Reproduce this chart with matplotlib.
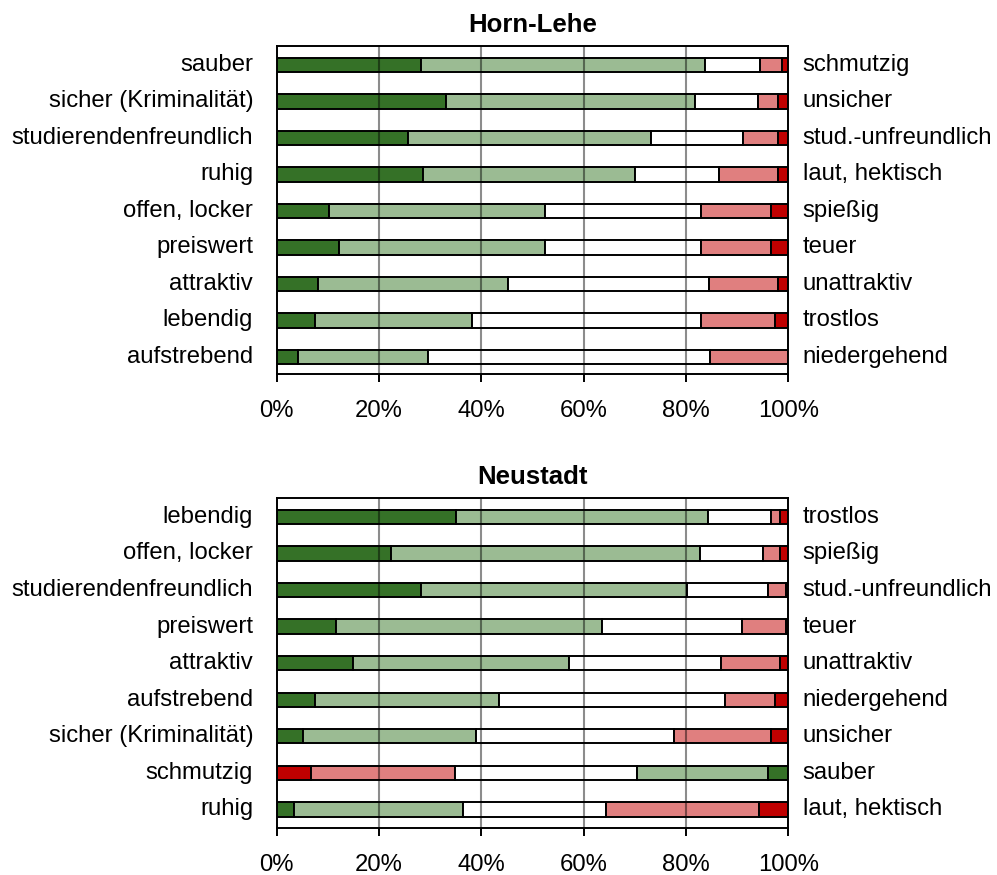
import numpy as np
import matplotlib.pyplot as plt
from matplotlib.transforms import blended_transform_factory

plt.rcParams['font.family'] = ['Liberation Sans', 'DejaVu Sans']

# colours
DUNKELGRUEN = "#357127"
HELLGRUEN   = "#9BBB93"
WEISS       = "#FFFFFF"
ROSA        = "#E07F7F"
ROT         = "#C00000"
SKALA = [DUNKELGRUEN, HELLGRUEN, WEISS, ROSA, ROT]

# ---- Horn-Lehe ----
hl_links  = ["sauber", "sicher (Kriminalität)", "studierendenfreundlich", "ruhig",
             "offen, locker", "preiswert", "attraktiv", "lebendig", "aufstrebend"]
hl_rechts = ["schmutzig", "unsicher", "stud.-unfreundlich", "laut, hektisch",
             "spießig", "teuer", "unattraktiv", "trostlos", "niedergehend"]
# segment shares left -> right (%)
hl_werte = [
    [28.3, 55.4, 10.8, 4.2, 1.3],
    [33.1, 48.6, 12.3, 4.0, 2.0],
    [25.7, 47.4, 18.1, 6.8, 2.0],
    [28.6, 41.5, 16.4, 11.5, 2.0],
    [10.2, 42.2, 30.6, 13.6, 3.4],
    [12.2, 40.2, 30.6, 13.6, 3.4],
    [8.1, 37.2, 39.2, 13.5, 2.0],
    [7.5, 30.7, 44.8, 14.4, 2.6],
    [4.2, 25.4, 55.2, 15.2, 0.0],
]
hl_umgekehrt = [False] * 9

# ---- Neustadt ----
ns_links  = ["lebendig", "offen, locker", "studierendenfreundlich", "preiswert",
             "attraktiv", "aufstrebend", "sicher (Kriminalität)", "schmutzig", "ruhig"]
ns_rechts = ["trostlos", "spießig", "stud.-unfreundlich", "teuer", "unattraktiv",
             "niedergehend", "unsicher", "sauber", "laut, hektisch"]
ns_werte = [
    [35.0, 49.3, 12.3, 1.7, 1.7],
    [22.3, 60.4, 12.3, 3.3, 1.7],
    [28.2, 52.1, 15.7, 3.5, 0.5],
    [11.6, 52.0, 27.3, 8.6, 0.5],
    [14.9, 42.2, 29.7, 11.5, 1.7],
    [7.5, 35.9, 44.2, 9.9, 2.5],
    [5.1, 33.8, 38.8, 19.0, 3.3],
    [6.7, 28.1, 35.6, 25.6, 4.0],
    [3.3, 33.1, 28.0, 29.8, 5.8],
]
ns_umgekehrt = [False] * 7 + [True, False]

FS = 17.2


def zeichne(ax, titel, links, rechts, werte, umgekehrt, ylim):
    werte = np.array(werte)
    y = np.arange(len(links))
    start = np.zeros(len(links))
    for k in range(werte.shape[1]):
        farben = [SKALA[4 - k] if u else SKALA[k] for u in umgekehrt]
        ax.barh(y, werte[:, k], left=start, height=0.39, color=farben,
                edgecolor="black", linewidth=1.4, zorder=2)
        start += werte[:, k]

    ax.set_xlim(0, 100)
    ax.set_ylim(*ylim)
    ax.set_xticks([0, 20, 40, 60, 80, 100])
    ax.set_xticklabels(["0%", "20%", "40%", "60%", "80%", "100%"], fontsize=FS)
    ax.tick_params(axis="x", direction="out", length=6, width=1.4, pad=13)
    ax.set_yticks([])
    for x in [20, 40, 60, 80]:
        ax.axvline(x, color="black", alpha=0.45, linewidth=1.5, zorder=3)
    for s in ax.spines.values():
        s.set_linewidth(1.4)
        s.set_zorder(4)

    tr = blended_transform_factory(ax.transAxes, ax.transData)
    for i in range(len(links)):
        ax.text(-0.046, y[i], links[i], transform=tr, ha="right", va="center", fontsize=FS)
        ax.text(1.028, y[i], rechts[i], transform=tr, ha="left", va="center", fontsize=FS)
    ax.set_title(titel, fontsize=18.5, fontweight="bold", pad=10)


fig = plt.figure(figsize=(9.97, 8.75), dpi=100)
ax1 = fig.add_axes([0.2775, 0.5726, 0.5131, 0.3752])
ax2 = fig.add_axes([0.2775, 0.0541, 0.5131, 0.3765])

zeichne(ax1, "Horn-Lehe", hl_links, hl_rechts, hl_werte, hl_umgekehrt, (8.465, -0.528))
zeichne(ax2, "Neustadt", ns_links, ns_rechts, ns_werte, ns_umgekehrt, (8.498, -0.511))

fig.savefig("out.png", dpi=100)
